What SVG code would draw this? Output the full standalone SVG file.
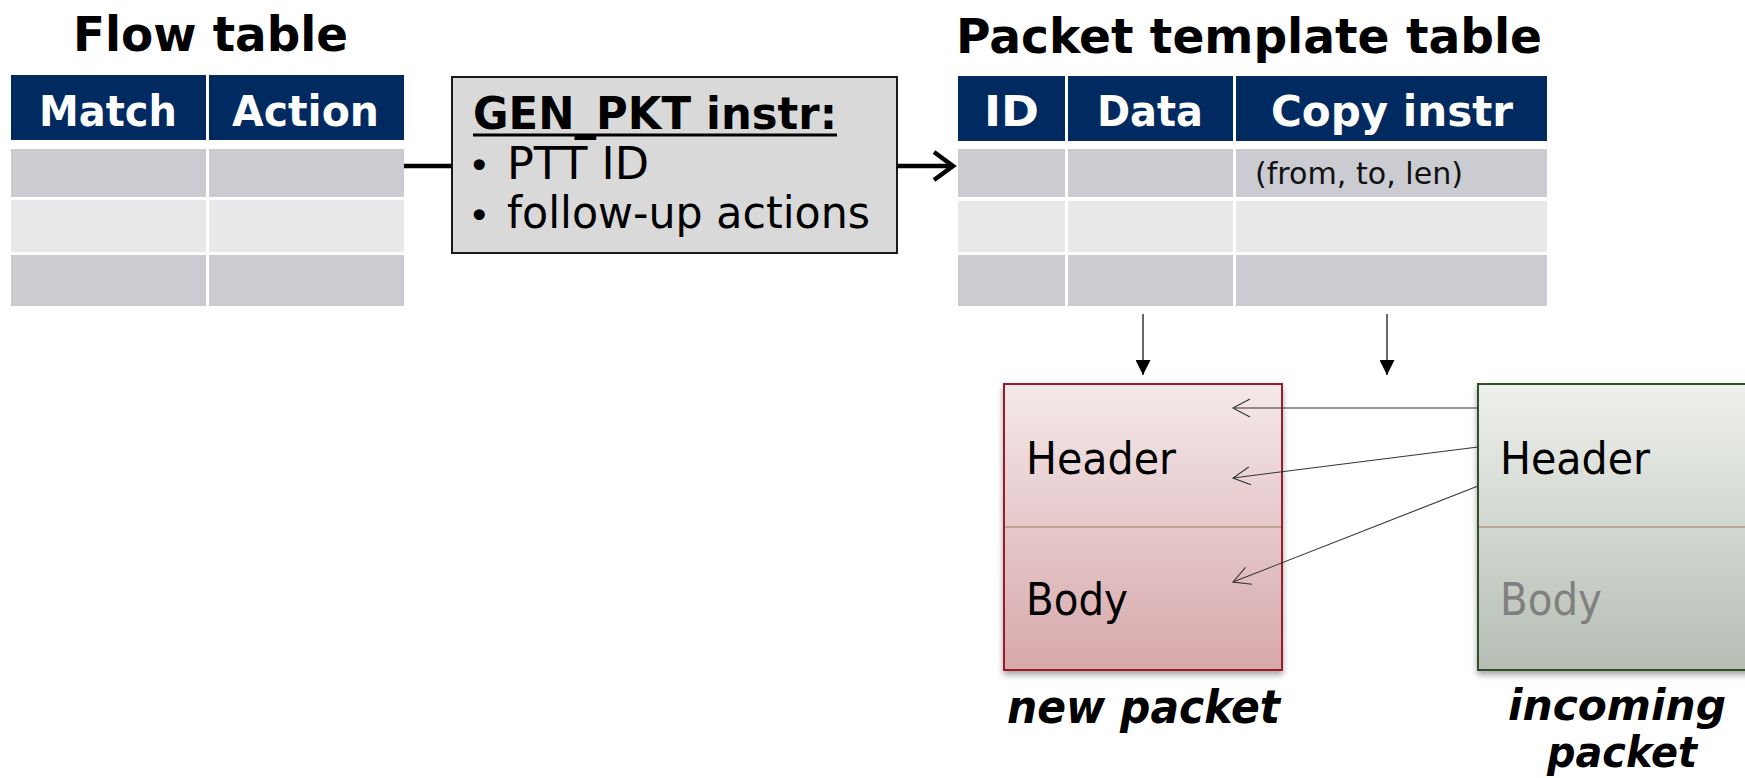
<svg xmlns="http://www.w3.org/2000/svg" width="1745" height="778" viewBox="0 0 1745 778">
  <defs>
    <style>
      .title { font-family: "DejaVu Sans", Verdana, sans-serif; font-weight: bold; font-size: 48px; fill: #000; }
      .th { font-family: "DejaVu Sans", Verdana, sans-serif; font-weight: bold; font-size: 42px; fill: #fff; }
      .hdr { fill: #002a60; }
      .rowA { fill: #cbccd1; }
      .rowB { fill: #e7e8ea; }
      .body { font-family: "DejaVu Sans", Verdana, sans-serif; font-size: 44px; fill: #000; }
      .bullet { font-family: "DejaVu Sans", Verdana, sans-serif; font-size: 38px; fill: #000; }
      .muted { fill: #808080; }
      .small { font-family: "DejaVu Sans", Verdana, sans-serif; font-size: 30px; fill: #111; }
      .caption { font-family: "DejaVu Sans", Verdana, sans-serif; font-weight: bold; font-style: italic; font-size: 46px; fill: #000; }
      .caption2 { font-family: "DejaVu Sans", Verdana, sans-serif; font-weight: bold; font-style: italic; font-size: 43px; fill: #000; }
      .thick { stroke: #000; stroke-width: 4.5; fill: none; }
      .thin { stroke: #000; stroke-width: 1.2; fill: none; }
      .copy { stroke: #333; stroke-width: 1.1; fill: none; }
      .divider { stroke: #a07a5a; stroke-width: 1.2; }
    </style>
    <linearGradient id="gradNew" x1="0" y1="0" x2="0" y2="1">
      <stop offset="0" stop-color="#f4e9ea"/>
      <stop offset="1" stop-color="#d7a8aa"/>
    </linearGradient>
    <linearGradient id="gradIn" x1="0" y1="0" x2="0" y2="1">
      <stop offset="0" stop-color="#eef0ec"/>
      <stop offset="1" stop-color="#b6beb4"/>
    </linearGradient>
    <filter id="shadow" x="-10%" y="-10%" width="120%" height="120%">
      <feDropShadow dx="0" dy="4" stdDeviation="3" flood-color="#000" flood-opacity="0.35"/>
    </filter>
    <marker id="solidHead" markerWidth="15" markerHeight="15" refX="15" refY="7.5" orient="auto" markerUnits="userSpaceOnUse">
      <path d="M0,0 L15,7.5 L0,15 Z" fill="#000"/>
    </marker>
    <marker id="openHead" markerWidth="20" markerHeight="20" refX="18" refY="10" orient="auto" markerUnits="userSpaceOnUse">
      <path d="M1,1 L18,10 L1,19" fill="none" stroke="#333" stroke-width="1.1"/>
    </marker>
  </defs>

  <rect x="0" y="0" width="1745" height="778" fill="#fff"/>

  <!-- Flow table -->
  <g id="flow-table">
    <text class="title" x="73" y="51" textLength="275" lengthAdjust="spacingAndGlyphs">Flow table</text>
    <rect class="hdr" x="11" y="75" width="195" height="65"/>
    <rect class="hdr" x="209" y="75" width="195" height="65"/>
    <text class="th" x="39" y="126" textLength="138" lengthAdjust="spacingAndGlyphs">Match</text>
    <text class="th" x="232" y="126" textLength="147" lengthAdjust="spacingAndGlyphs">Action</text>
    <rect class="rowA" x="11" y="149" width="195" height="48"/>
    <rect class="rowA" x="209" y="149" width="195" height="48"/>
    <rect class="rowB" x="11" y="200" width="195" height="52"/>
    <rect class="rowB" x="209" y="200" width="195" height="52"/>
    <rect class="rowA" x="11" y="255" width="195" height="51"/>
    <rect class="rowA" x="209" y="255" width="195" height="51"/>
  </g>

  <!-- GEN_PKT instruction box -->
  <g id="gen-pkt">
    <rect x="452" y="77" width="445" height="176" fill="#d9d9d9" stroke="#1a1a1a" stroke-width="2"/>
    <text class="body" x="473" y="129" font-weight="bold" textLength="364" lengthAdjust="spacingAndGlyphs">GEN_PKT instr:</text>
    <line x1="473" y1="135" x2="837" y2="135" stroke="#000" stroke-width="3"/>
    <text class="bullet" x="468" y="179">•</text>
    <text class="body" x="507" y="179" textLength="142" lengthAdjust="spacingAndGlyphs">PTT ID</text>
    <text class="bullet" x="468" y="229">•</text>
    <text class="body" x="507" y="228" textLength="363" lengthAdjust="spacingAndGlyphs">follow-up actions</text>
  </g>

  <!-- Packet template table -->
  <g id="packet-template-table">
    <text class="title" x="956" y="53" textLength="586" lengthAdjust="spacingAndGlyphs">Packet template table</text>
    <rect class="hdr" x="958" y="76" width="107" height="65"/>
    <rect class="hdr" x="1068" y="76" width="165" height="65"/>
    <rect class="hdr" x="1236" y="76" width="311" height="65"/>
    <text class="th" x="984" y="126" textLength="55" lengthAdjust="spacingAndGlyphs">ID</text>
    <text class="th" x="1097" y="126" textLength="106" lengthAdjust="spacingAndGlyphs">Data</text>
    <text class="th" x="1271" y="126" textLength="242" lengthAdjust="spacingAndGlyphs">Copy instr</text>
    <rect class="rowA" x="958" y="149" width="107" height="48"/>
    <rect class="rowA" x="1068" y="149" width="165" height="48"/>
    <rect class="rowA" x="1236" y="149" width="311" height="48"/>
    <rect class="rowB" x="958" y="201" width="107" height="51"/>
    <rect class="rowB" x="1068" y="201" width="165" height="51"/>
    <rect class="rowB" x="1236" y="201" width="311" height="51"/>
    <rect class="rowA" x="958" y="255" width="107" height="51"/>
    <rect class="rowA" x="1068" y="255" width="165" height="51"/>
    <rect class="rowA" x="1236" y="255" width="311" height="51"/>
    <text class="small" x="1255" y="184" textLength="208" lengthAdjust="spacingAndGlyphs">(from, to, len)</text>
  </g>

  <!-- New packet -->
  <g id="new-packet">
    <rect x="1004" y="384" width="278" height="286" fill="url(#gradNew)" stroke="#9a1f2b" stroke-width="2" filter="url(#shadow)"/>
    <line class="divider" x1="1005" y1="527" x2="1281" y2="527"/>
    <text class="body" x="1026" y="474" textLength="150" lengthAdjust="spacingAndGlyphs">Header</text>
    <text class="body" x="1026" y="615" textLength="102" lengthAdjust="spacingAndGlyphs">Body</text>
    <text class="caption" x="1007" y="723" textLength="273" lengthAdjust="spacingAndGlyphs">new packet</text>
  </g>

  <!-- Incoming packet -->
  <g id="incoming-packet">
    <rect x="1478" y="384" width="290" height="286" fill="url(#gradIn)" stroke="#33502a" stroke-width="2" filter="url(#shadow)"/>
    <line class="divider" x1="1479" y1="527" x2="1745" y2="527"/>
    <text class="body" x="1500" y="474" textLength="150" lengthAdjust="spacingAndGlyphs">Header</text>
    <text class="body muted" x="1500" y="615" textLength="102" lengthAdjust="spacingAndGlyphs">Body</text>
    <text class="caption2" x="1508" y="720" textLength="218" lengthAdjust="spacingAndGlyphs">incoming</text>
    <text class="caption2" x="1547" y="767" textLength="150" lengthAdjust="spacingAndGlyphs">packet</text>
  </g>

  <!-- Connectors -->
  <g id="connectors">
    <line class="thick" x1="404" y1="166" x2="452" y2="166"/>
    <line class="thick" x1="897" y1="166" x2="952" y2="166"/>
    <polyline class="thick" points="934,152 953,166 934,180"/>
    <line class="thin" x1="1143" y1="314" x2="1143" y2="375" marker-end="url(#solidHead)"/>
    <line class="thin" x1="1387" y1="314" x2="1387" y2="375" marker-end="url(#solidHead)"/>
    <line class="copy" x1="1478" y1="408" x2="1233" y2="408" marker-end="url(#openHead)"/>
    <line class="copy" x1="1478" y1="447" x2="1233" y2="478" marker-end="url(#openHead)"/>
    <line class="copy" x1="1478" y1="486" x2="1233" y2="582" marker-end="url(#openHead)"/>
  </g>
</svg>
